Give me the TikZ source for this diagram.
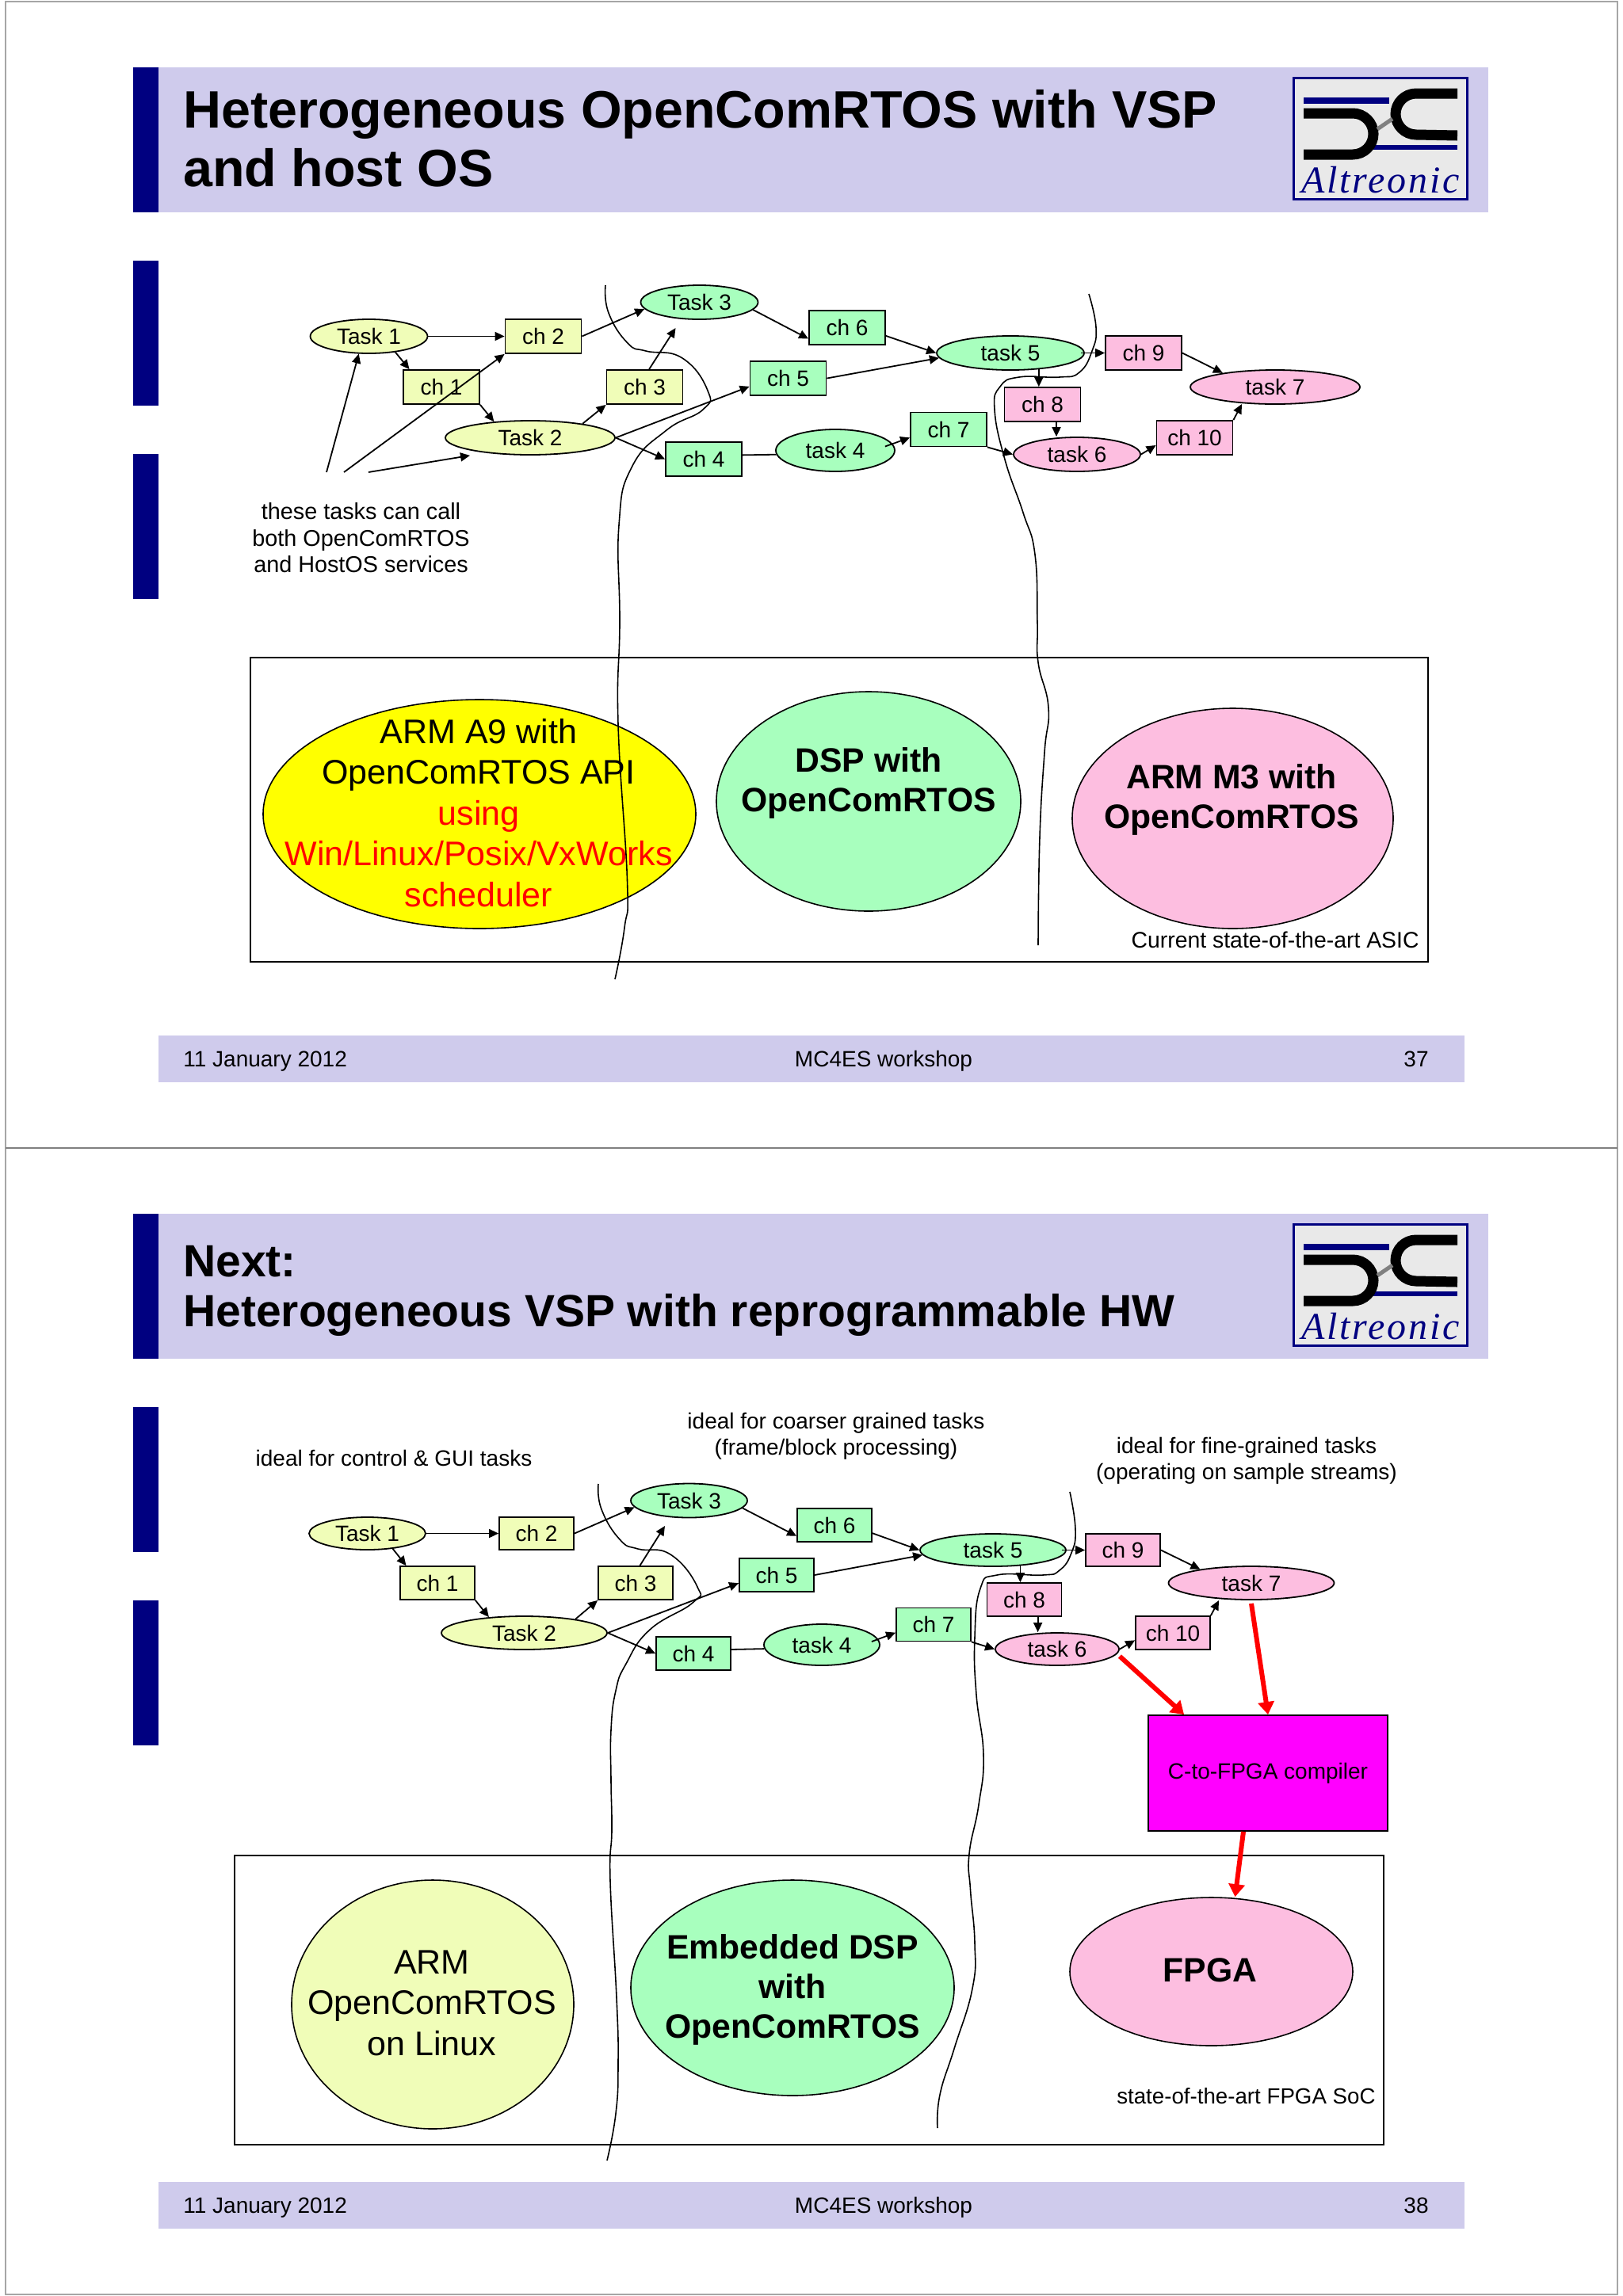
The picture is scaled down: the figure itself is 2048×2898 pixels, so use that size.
\documentclass[tikz,border=0pt]{standalone}
\usepackage{fontspec}
\setmainfont{Liberation Sans}
\newfontfamily\logofont[LetterSpace=6]{Liberation Serif}
\usetikzlibrary{shapes.geometric,arrows.meta}

\definecolor{bandcol}{RGB}{207,203,236}
\definecolor{navycol}{RGB}{0,0,128}
\definecolor{yelcol}{RGB}{240,253,184}
\definecolor{grncol}{RGB}{168,255,190}
\definecolor{pnkcol}{RGB}{253,190,224}
\definecolor{logocol}{RGB}{233,233,233}
\definecolor{armcol}{RGB}{255,255,0}
\definecolor{compcol}{RGB}{255,0,255}
\definecolor{hotcol}{RGB}{255,0,0}

\tikzstyle{chan} =[shape=rectangle,draw,line width=0.9pt,inner sep=0pt,
minimum width=48pt,minimum height=21.5pt,font=\fontsize{14}{16}\selectfont]
\tikzstyle{tsk} =[shape=ellipse,draw,line width=0.9pt,inner sep=0pt,
minimum width=74pt,minimum height=21.5pt,font=\fontsize{14}{16}\selectfont]
\tikzstyle{blob} =[shape=ellipse,draw,line width=0.8pt,inner sep=0pt]
\tikzstyle{bigtxt} =[align=center,inner sep=0pt,font=\fontsize{21.5}{25.7}\selectfont]
\tikzstyle{bigbold} =[align=center,inner sep=0pt,font=\fontsize{21.35}{25}\selectfont\bfseries]
\tikzstyle{smalltxt} =[align=center,inner sep=0pt,font=\fontsize{14}{16.7}\selectfont]
\tikzstyle{titletxt} =[anchor=west,align=left,inner sep=0pt,font=\fontsize{33.2}{37}\selectfont\bfseries]
\tikzstyle{link} =[line width=0.9pt,-{Triangle[length=6pt,width=5.5pt]}]
\tikzstyle{plain} =[line width=0.9pt]
\tikzstyle{hotlink} =[hotcol,line width=3pt,-{Triangle[length=8pt,width=10pt]}]
\tikzstyle{cut} =[line width=0.8pt]

\newcommand{\slidelogo}[1]{
	\begin{scope}[shift={(0,#1)}]
		\draw[navycol,line width=1.5pt,fill=logocol] (1632,98) rectangle (1851,251);
		\fill[navycol] (1645,123) rectangle (1753,131);
		\fill[navycol] (1733,183) rectangle (1839,189);
		\draw[line width=6.5pt] (1645,143) -- (1707,143) arc[start angle=90,end angle=-90,x radius=26,y radius=-26] -- (1645,195);
		\draw[line width=6.5pt] (1839,118) -- (1787,118) arc[start angle=90,end angle=270,x radius=26,y radius=-26] -- (1839,171);
		\draw[gray,line width=2.5pt] (1738,163) -- (1757,150);
		\node[navycol,inner sep=0pt,font=\fontsize{24}{24}\logofont\itshape] at (1742,227) {Altreonic};
	\end{scope}
}

\begin{document}
\begin{tikzpicture}[x=0.5pt,y=-0.5pt]
\useasboundingbox (0,0) rectangle (2048,2898);
\fill[white] (0,0) rectangle (2048,2898);
\draw[black!35,line width=1pt] (7,2) rectangle (2041,2896);
\draw[black!50,line width=1pt] (7,1449) -- (2041,1449);

\fill[bandcol] (200,85) rectangle (1878,268);
\fill[navycol] (168,85) rectangle (200,268);
\fill[navycol] (168,329) rectangle (200,512);
\fill[navycol] (168,573) rectangle (200,756);
\fill[bandcol] (200,1307) rectangle (1848,1366);
\node[titletxt] (titlea) at (231,175) {Heterogeneous OpenComRTOS with VSP\\and host OS};
\slidelogo{0}
\node[smalltxt,anchor=west] (datea) at (231,1339.5) {11 January 2012};
\node[smalltxt] (worka) at (1115,1339.5) {MC4ES workshop};
\node[smalltxt] (pagea) at (1787,1337) {37};

\draw[line width=0.9pt] (316,830) rectangle (1802,1214);
\node[blob,fill=armcol,minimum width=273pt,minimum height=144.5pt] (arma) at (605,1027.5) {};
\node[blob,fill=grncol,minimum width=192pt,minimum height=138.5pt] (dspa) at (1096,1011.5) {};
\node[blob,fill=pnkcol,minimum width=202.5pt,minimum height=139pt] (m3a) at (1555.5,1033) {};
\node[bigtxt] (armtxta) at (604,1026) {ARM A9 with\\OpenComRTOS API\\\textcolor{hotcol}{using}\\\textcolor{hotcol}{Win/Linux/Posix/VxWorks}\\\textcolor{hotcol}{scheduler}};
\node[bigbold] (dsptxta) at (1096,988) {DSP with\\OpenComRTOS};
\node[bigbold] (m3txta) at (1554,1009) {ARM M3 with\\OpenComRTOS};
\node[smalltxt,anchor=east,font=\fontsize{14.2}{16}\selectfont] (asica) at (1791,1186) {Current state-of-the-art ASIC};

\node[tsk,fill=yelcol] (ta1) at (465.5,424.5) {Task 1};
\node[tsk,fill=yelcol,minimum width=107pt] (ta2) at (669,552.5) {Task 2};
\node[tsk,fill=grncol] (ta3) at (882.5,381.5) {Task 3};
\node[tsk,fill=grncol,minimum width=75pt,minimum height=26.5pt] (ta4) at (1054,568.5) {task 4};
\node[tsk,fill=grncol,minimum width=93pt] (ta5) at (1275,445.5) {task 5};
\node[tsk,fill=pnkcol,minimum width=80pt] (ta6) at (1359,573.5) {task 6};
\node[tsk,fill=pnkcol,minimum width=107pt] (ta7) at (1609,488.5) {task 7};
\node[chan,fill=yelcol] (ca1) at (557,488.5) {ch 1};
\node[chan,fill=yelcol] (ca2) at (685.5,424.5) {ch 2};
\node[chan,fill=yelcol] (ca3) at (813.5,488.5) {ch 3};
\node[chan,fill=grncol] (ca4) at (888,579.5) {ch 4};
\node[chan,fill=grncol] (ca5) at (994.5,477.5) {ch 5};
\node[chan,fill=grncol] (ca6) at (1069,413.5) {ch 6};
\node[chan,fill=grncol] (ca7) at (1197,542) {ch 7};
\node[chan,fill=pnkcol] (ca8) at (1315.5,510.5) {ch 8};
\node[chan,fill=pnkcol] (ca9) at (1443,445.5) {ch 9};
\node[chan,fill=pnkcol] (ca10) at (1507.5,552.5) {ch 10};
\node[smalltxt,font=\fontsize{14.4}{16.8}\selectfont] (notea) at (455.5,679) {these tasks can call\\both OpenComRTOS\\and HostOS services};
\coordinate (fa1) at (852.5,414);
\coordinate (fa2) at (1567,510);
\coordinate (na1) at (412,596);
\coordinate (na2) at (434,596);
\coordinate (na3) at (465,596);

\draw[link] (ta1.east) -- (ca2.west);
\draw[link] (ta1.-31) -- (ca1.151);
\draw[link] (ca1.south east) -- (ta2.156);
\draw[link] (ta2.15) -- (ca3.south west);
\draw[link] (ca3.76) -- (fa1);
\draw[link] (ca2.east) -- (ta3.187);
\draw[link] (ta3.-8) -- (ca6.196);
\draw[link] (ta2.east) -- (ca5.192);
\draw[link] (ta2.east) -- (ca4.west);
\draw[plain] (ca4.6) -- (ta4.184);
\draw[link] (ca5.east) -- (ta5.184);
\draw[link] (ca6.-12) -- (ta5.west);
\draw[link] ([xshift=-6.5pt,yshift=2.5pt]ta4.east) -- (ca7.192);
\draw[link] (ca7.south east) -- (ta6.west);
\draw[link] ([xshift=-2.5pt]ta5.east) -- (ca9.west);
\draw[link] (ta5.-30) -- (ta5.-30 |- ca8.north);
\draw[link] (ca8.-52) -- (ca8.-52 |- ta6.north);
\draw[link] (ca9.east) -- (ta7.165);
\draw[link] (ta6.east) -- (ca10.191);
\draw[link] (ca10.north east) -- (fa2);
\draw[link] (na1) -- (ta1.240);
\draw[link] (na2) -- (ca2.south west);
\draw[link] (na3) -- ([xshift=-38pt]ta2.south);

\draw[cut] plot[smooth,tension=0.8] coordinates {(764,360) (768,395) (792,433) (815,443) (861,452) (893,493) (887,517) (841,543) (797,590) (781,663) (782,786) (780,914) (791.5,1111) (788,1171) (776,1236)};
\draw[cut] plot[smooth,tension=0.8] coordinates {(1374,371) (1383,413) (1378,443) (1362,470) (1337,476) (1286,476) (1262,488) (1255,517) (1268,580) (1291,647) (1306,700) (1309,786) (1310,836) (1323,893) (1318,950) (1312,1057) (1310,1193)};

\fill[bandcol] (200,1532) rectangle (1878,1715);
\fill[navycol] (168,1532) rectangle (200,1715);
\fill[navycol] (168,1776) rectangle (200,1959);
\fill[navycol] (168,2020) rectangle (200,2203);
\fill[bandcol] (200,2754) rectangle (1848,2813);
\node[titletxt,font=\fontsize{28.5}{31.5}\selectfont\bfseries] (titleb) at (231,1629) {Next:\\Heterogeneous VSP with reprogrammable HW};
\slidelogo{1447}
\node[smalltxt,anchor=west] (dateb) at (231,2786.5) {11 January 2012};
\node[smalltxt] (workb) at (1115,2786.5) {MC4ES workshop};
\node[smalltxt] (pageb) at (1787,2784) {38};

\draw[line width=0.9pt] (296,2342) rectangle (1746,2707);
\node[blob,fill=yelcol,minimum width=178pt,minimum height=157pt] (armb) at (546,2530) {};
\node[blob,fill=grncol,minimum width=204pt,minimum height=136pt] (dspb) at (1000,2509) {};
\node[blob,fill=pnkcol,minimum width=178.5pt,minimum height=93.5pt] (fpgab) at (1528.5,2488.5) {};
\node[bigtxt] (armtxtb) at (545,2528) {ARM\\OpenComRTOS\\on Linux};
\node[bigbold] (dsptxtb) at (1000,2511) {Embedded DSP\\with\\OpenComRTOS};
\node[bigbold] (fpgatxtb) at (1527,2487) {FPGA};
\node[smalltxt,anchor=east,font=\fontsize{13.85}{16}\selectfont] (socb) at (1736,2646) {state-of-the-art FPGA SoC};

\node[smalltxt] (ideala) at (497,1840) {ideal for control \& GUI tasks};
\node[smalltxt] (idealb) at (1055,1812.5) {ideal for coarser grained tasks\\(frame/block processing)};
\node[smalltxt] (idealc) at (1573,1843.5) {ideal for fine-grained tasks\\(operating on sample streams)};

\node[tsk,fill=yelcol,minimum width=73.5pt,minimum height=20.5pt] (tb1) at (463.5,1935.5) {Task 1};
\node[tsk,fill=yelcol,minimum width=104.5pt,minimum height=21pt] (tb2) at (661.5,2061) {Task 2};
\node[tsk,fill=grncol,minimum width=73.5pt] (tb3) at (869.5,1894) {Task 3};
\node[tsk,fill=grncol,minimum width=73pt,minimum height=26pt] (tb4) at (1037,2076) {task 4};
\node[tsk,fill=grncol,minimum width=92pt,minimum height=20.5pt] (tb5) at (1253,1956.5) {task 5};
\node[tsk,fill=pnkcol,minimum width=78pt,minimum height=20.5pt] (tb6) at (1334,2081.5) {task 6};
\node[tsk,fill=pnkcol,minimum width=104.5pt,minimum height=21pt] (tb7) at (1579,1998) {task 7};
\node[chan,fill=yelcol,minimum width=47pt,minimum height=21pt] (cb1) at (552,1998) {ch 1};
\node[chan,fill=yelcol,minimum width=47pt,minimum height=20.5pt] (cb2) at (677,1935.5) {ch 2};
\node[chan,fill=yelcol,minimum width=47pt,minimum height=21pt] (cb3) at (802,1998) {ch 3};
\node[chan,fill=grncol,minimum width=47pt,minimum height=21pt] (cb4) at (875,2087) {ch 4};
\node[chan,fill=grncol,minimum width=47pt,minimum height=21pt] (cb5) at (980,1988) {ch 5};
\node[chan,fill=grncol,minimum width=47pt,minimum height=21pt] (cb6) at (1053,1925) {ch 6};
\node[chan,fill=grncol,minimum width=47pt,minimum height=21pt] (cb7) at (1178,2050.5) {ch 7};
\node[chan,fill=pnkcol,minimum width=47pt,minimum height=21pt] (cb8) at (1292.5,2019) {ch 8};
\node[chan,fill=pnkcol,minimum width=47pt,minimum height=20.5pt] (cb9) at (1417,1956.5) {ch 9};
\node[chan,fill=pnkcol,minimum width=47pt,minimum height=21pt] (cb10) at (1480,2061) {ch 10};
\node[shape=rectangle,draw,line width=0.9pt,fill=compcol,inner sep=0pt,minimum width=151pt,minimum height=73pt,font=\fontsize{14}{16}\selectfont] (compb) at (1600,2238) {C-to-FPGA compiler};
\coordinate (fb1) at (839,1926);
\coordinate (fb2) at (1538,2020);

\draw[link] (tb1.east) -- (cb2.west);
\draw[link] (tb1.-31) -- (cb1.151);
\draw[link] (cb1.south east) -- (tb2.156);
\draw[link] (tb2.15) -- (cb3.south west);
\draw[link] (cb3.76) -- (fb1);
\draw[link] (cb2.east) -- (tb3.187);
\draw[link] (tb3.-8) -- (cb6.196);
\draw[link] (tb2.east) -- (cb5.192);
\draw[link] (tb2.east) -- (cb4.west);
\draw[plain] (cb4.6) -- (tb4.184);
\draw[link] (cb5.east) -- (tb5.184);
\draw[link] (cb6.-12) -- (tb5.west);
\draw[link] ([xshift=-5.5pt,yshift=2pt]tb4.east) -- (cb7.192);
\draw[link] (cb7.south east) -- (tb6.west);
\draw[link] ([xshift=-3pt]tb5.east) -- (cb9.west);
\draw[link] (tb5.-30) -- (tb5.-30 |- cb8.north);
\draw[link] (cb8.-52) -- (cb8.-52 |- tb6.north);
\draw[link] (cb9.east) -- (tb7.165);
\draw[link] (tb6.east) -- (cb10.191);
\draw[link] (cb10.north east) -- (fb2);
\draw[hotlink] ([yshift=-4.5pt]tb6.east) -- ([xshift=23pt]compb.north west);
\draw[hotlink] ([yshift=-2pt]tb7.south) -- (compb.north);
\draw[hotlink] ([xshift=-15.5pt]compb.south) -- ([xshift=15pt]fpgab.north);

\draw[cut] plot[smooth,tension=0.8] coordinates {(755,1873) (759,1905) (782,1943) (805,1955) (846,1962) (880,2003) (874,2023) (820,2057) (790,2100) (777,2134) (771,2184) (771,2247) (772,2310) (770,2374) (778,2521) (780,2605) (777,2668) (766,2727)};
\draw[cut] plot[smooth,tension=0.8] coordinates {(1350,1883) (1357,1930) (1352,1960) (1337,1982) (1316,1988) (1258,1988) (1237,2005) (1230,2067) (1232,2139) (1241,2215) (1235,2278) (1223,2340) (1224.5,2385) (1230,2452) (1227,2510) (1204,2586) (1186,2644) (1183,2686)};
\end{tikzpicture}
\end{document}
